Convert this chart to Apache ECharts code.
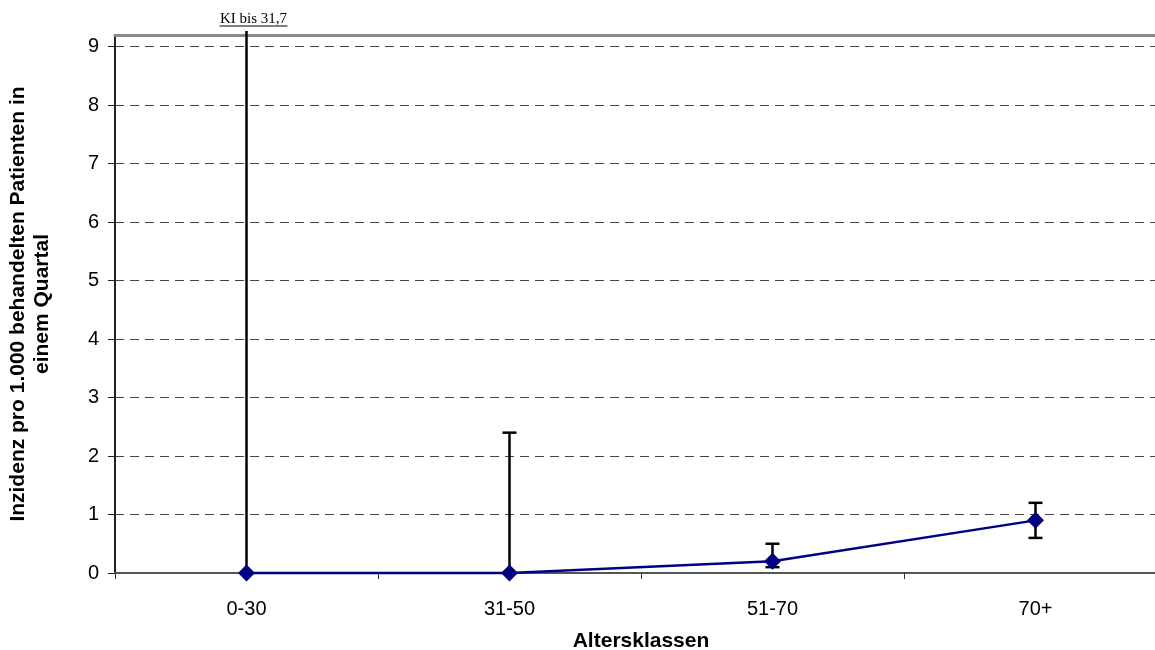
<!DOCTYPE html>
<html>
<head>
<meta charset="utf-8">
<script src="https://cdn.jsdelivr.net/npm/echarts@6/dist/echarts.min.js"></script>
<style>
html,body{margin:0;padding:0;background:#fff;}
#chart{width:1155px;height:650px;}
</style>
</head>
<body>
<div id="chart"></div>
<script>
// ---- data ----
const categories = ['0-30', '31-50', '51-70', '70+'];
const incidence = [0, 0, 0.2, 0.9];
const ciLower = [0, 0, 0.1, 0.6];
const ciUpper = [31.7, 2.4, 0.5, 1.2];
const yTicks = [0, 1, 2, 3, 4, 5, 6, 7, 8, 9];
const yMin = 0, yMax = 9.2;

const yAxisName = 'Inzidenz pro 1.000 behandelten Patienten in\neinem Quartal';
const xAxisName = 'Altersklassen';

const errData = categories.map((c, i) => [i, incidence[i], ciLower[i], ciUpper[i]]);

const FONT = '"Liberation Sans", Arial, sans-serif';
const chart = echarts.init(document.getElementById('chart'), null, {renderer: 'canvas'});

function renderErr(params, api) {
  const x = api.value(0);
  const lo = api.value(2);
  const hi = api.value(3);
  const clipped = hi > yMax;
  const pLo = api.coord([x, lo]);
  const pHi = api.coord([x, clipped ? yMax : hi]);
  const capW = 7;
  const style = {stroke: '#000', lineWidth: 2.5, fill: null};
  const children = [];
  const topY = clipped ? pHi[1] - 4 : pHi[1];
  children.push({type: 'line', shape: {x1: pLo[0], y1: pLo[1], x2: pHi[0], y2: topY}, style: style});
  if (!clipped) {
    children.push({type: 'line', shape: {x1: pHi[0] - capW, y1: pHi[1], x2: pHi[0] + capW, y2: pHi[1]}, style: style});
    if (hi !== lo) {
      children.push({type: 'line', shape: {x1: pLo[0] - capW, y1: pLo[1], x2: pLo[0] + capW, y2: pLo[1]}, style: style});
    }
  } else {
    const txt = 'KI bis ' + String(hi).replace('.', ',');
    const tx = pHi[0] + 7;
    const ty = pHi[1] - 8;
    children.push({
      type: 'text',
      style: {
        text: txt, x: tx, y: ty, align: 'center', verticalAlign: 'bottom',
        fill: '#000', font: '15px "Liberation Serif", "Times New Roman", serif'
      }
    });
    children.push({
      type: 'line',
      shape: {x1: tx - 34, y1: ty - 1, x2: tx + 34, y2: ty - 1},
      style: {stroke: '#000', lineWidth: 1}
    });
  }
  return {type: 'group', children: children};
}

const option = {
  animation: false,
  backgroundColor: '#fff',
  textStyle: {fontFamily: FONT},
  grid: {left: 115, width: 1052, top: 35, bottom: 77, containLabel: false, outerBoundsMode: 'none'},
  xAxis: [{
    type: 'category',
    data: categories,
    boundaryGap: true,
    position: 'bottom',
    name: xAxisName,
    nameLocation: 'middle',
    nameGap: 58,
    nameTextStyle: {fontSize: 21, fontWeight: 'bold', color: '#000', fontFamily: FONT},
    axisLine: {show: true, lineStyle: {color: '#555', width: 2}},
    axisTick: {show: true, alignWithLabel: false, length: 6, lineStyle: {color: '#333', width: 1}},
    axisLabel: {fontSize: 20, color: '#000', margin: 26, fontFamily: FONT},
    splitLine: {show: false}
  }, {
    type: 'category',
    data: categories,
    position: 'top',
    axisLine: {show: true, lineStyle: {color: '#888', width: 3}},
    axisTick: {show: false},
    axisLabel: {show: false},
    splitLine: {show: false}
  }],
  yAxis: {
    type: 'value',
    min: yMin,
    max: yMax,
    interval: 1,
    name: yAxisName,
    nameLocation: 'middle',
    nameGap: 61,
    nameRotate: 90,
    nameTextStyle: {fontSize: 21, fontWeight: 'bold', color: '#000', lineHeight: 24, align: 'center', fontFamily: FONT},
    axisLine: {show: true, lineStyle: {color: '#222', width: 2}},
    axisTick: {show: true, length: 7, lineStyle: {color: '#222', width: 1}, customValues: yTicks},
    axisLabel: {fontSize: 20, color: '#000', margin: 16, customValues: yTicks, fontFamily: FONT},
    splitLine: {show: true, lineStyle: {color: '#444', width: 1, type: [9, 6]}}
  },
  series: [{
    type: 'custom',
    name: 'KI',
    renderItem: renderErr,
    data: errData,
    encode: {x: 0, y: 1},
    z: 2,
    clip: false,
    silent: true
  }, {
    type: 'line',
    name: 'Inzidenz',
    data: incidence,
    symbol: 'diamond',
    symbolSize: 17,
    showSymbol: true,
    lineStyle: {color: '#000080', width: 2.5},
    itemStyle: {color: '#000080'},
    z: 3,
    clip: false
  }]
};
chart.setOption(option);
</script>
</body>
</html>
